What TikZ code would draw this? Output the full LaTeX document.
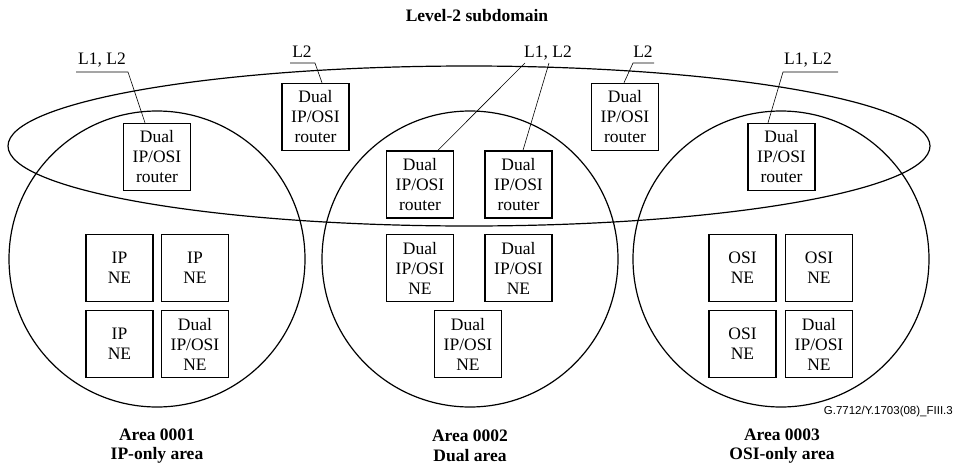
\documentclass[tikz,border=0pt]{standalone}
\usepackage{fontspec}
\setmainfont{Liberation Serif}
\newfontfamily\figsans{Liberation Sans}
\usetikzlibrary{calc}
\begin{document}
\begin{tikzpicture}[x=1pt,y=-1pt,
  txt/.style={font=\fontsize{17.5}{20}\selectfont, align=center, inner sep=0pt},
  btxt/.style={font=\fontsize{17.5}{19.5}\selectfont\bfseries, align=center, inner sep=0pt},
  box/.style={draw, line width=1.5pt, minimum width=67pt, minimum height=67pt, inner sep=0pt,
              align=center, font=\fontsize{17.5}{20}\selectfont},
  area/.style={draw, line width=1.2pt},
  lead/.style={draw, line width=0.6pt}]
\useasboundingbox (0,0) rectangle (954,466);
% title
\node[btxt] (title) at (477,16) {Level-2 subdomain};
% level-2 ellipse and areas
\draw[area] (469,146) ellipse [x radius=461pt, y radius=80pt];
\draw[area] (157,259) circle [radius=148pt];
\draw[area] (470,259) circle [radius=148pt];
\draw[area] (781,259) circle [radius=148pt];
% routers
\node[box] (rA) at (157,157) {Dual\\IP/OSI\\router};
\node[box] (rB) at (315.5,117) {Dual\\IP/OSI\\router};
\node[box] (rC) at (420,184.5) {Dual\\IP/OSI\\router};
\node[box] (rD) at (518.5,184.5) {Dual\\IP/OSI\\router};
\node[box] (rE) at (625,117) {Dual\\IP/OSI\\router};
\node[box] (rF) at (781.5,157) {Dual\\IP/OSI\\router};
% area 0001 NEs
\node[box] (a1) at (119.5,268) {IP\\NE};
\node[box] (a2) at (195,268) {IP\\NE};
\node[box] (a3) at (119.5,344) {IP\\NE};
\node[box] (a4) at (195,344) {Dual\\IP/OSI\\NE};
% area 0002 NEs
\node[box] (b1) at (420,268) {Dual\\IP/OSI\\NE};
\node[box] (b2) at (518.5,268) {Dual\\IP/OSI\\NE};
\node[box] (b3) at (468,344) {Dual\\IP/OSI\\NE};
% area 0003 NEs
\node[box] (c1) at (742.5,268) {OSI\\NE};
\node[box] (c2) at (819,268) {OSI\\NE};
\node[box] (c3) at (742.5,344) {OSI\\NE};
\node[box] (c4) at (819,344) {Dual\\IP/OSI\\NE};
% labels with leaders
\node[txt] (lA) at (102,60) {L1, L2};
\coordinate (uA1) at (76,72); \coordinate (uA2) at (128,72);
\draw[lead] (uA1) -- (uA2) -- ($(rA.north)+(-12,0)$);
\node[txt] (lB) at (302,52) {L2};
\coordinate (uB1) at (290,63); \coordinate (uB2) at (315,63);
\draw[lead] (uB1) -- (uB2) -- ($(rB.north)+(6.5,0)$);
\node[txt] (lM) at (548,53) {L1, L2};
\coordinate (uM1) at (525,63); \coordinate (uM2) at (549,63);
\draw[lead] (uM1) -- ($(rC.north)+(18,0)$);
\draw[lead] (uM2) -- ($(rD.north)+(4.5,0)$);
\node[txt] (lE) at (643,52) {L2};
\coordinate (uE1) at (633,63); \coordinate (uE2) at (654,63);
\draw[lead] (uE2) -- (uE1) -- ($(rE.north)+(-1,0)$);
\node[txt] (lF) at (808,60) {L1, L2};
\coordinate (uF1) at (783,72); \coordinate (uF2) at (838,72);
\draw[lead] (uF2) -- (uF1) -- ($(rF.north)+(-13.5,0)$);
% area labels
\node[btxt] (n1) at (157,446) {Area 0001\\IP-only area};
\node[btxt] (n2) at (470,446) {Area 0002\\Dual area};
\node[btxt] (n3) at (782,446) {Area 0003\\OSI-only area};
% figure id
\node[inner sep=0pt, anchor=east, font=\figsans\fontsize{11.5}{13}\selectfont] (fid) at (953,412) {G.7712/Y.1703(08)\_FIII.3};
\end{tikzpicture}
\end{document}
